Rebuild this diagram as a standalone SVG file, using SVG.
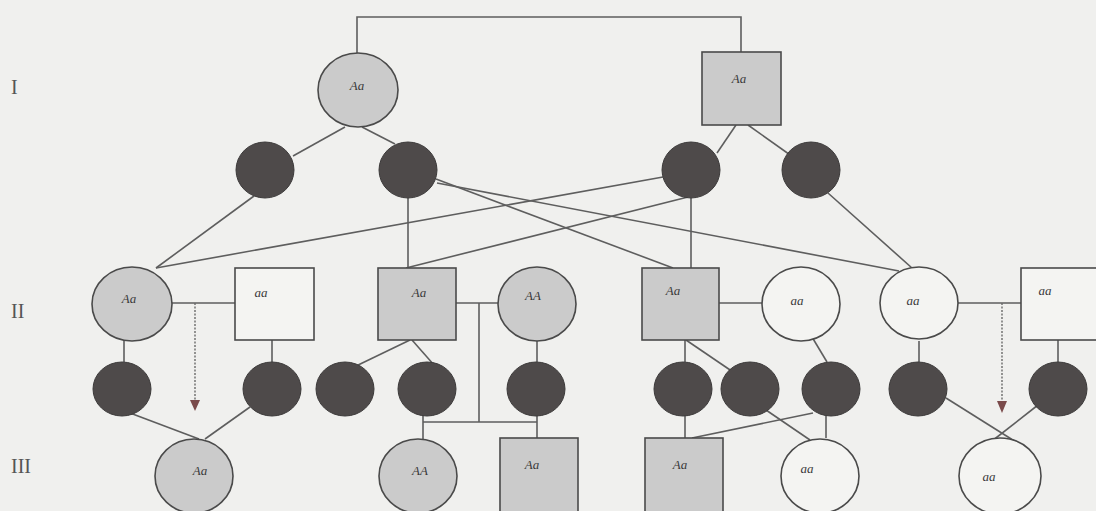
<svg xmlns="http://www.w3.org/2000/svg" width="1096" height="511" viewBox="0 0 1096 511">
<defs>
<style>
.bg{fill:#f0f0ee}
.ln{stroke:#5e5e5e;stroke-width:1.6;fill:none}
.dot{stroke:#6a6a6a;stroke-width:1.4;fill:none;stroke-dasharray:2 1.5}
.aff{fill:#cbcbcb;stroke:#4a4a4a;stroke-width:1.6}
.un{fill:#f4f4f2;stroke:#4a4a4a;stroke-width:1.6}
.gam{fill:#4e4a4a;stroke:#3c3a3a;stroke-width:1}
.gt{font-family:"Liberation Serif",serif;font-style:italic;font-size:13px;fill:#3a3a3a;text-anchor:middle}
.gen{font-family:"Liberation Serif",serif;font-size:20px;fill:#555}
.arr{fill:#7a4a4a}
</style>
</defs>
<rect class="bg" x="0" y="0" width="1096" height="511"/>
<g id="generation-labels">
<text class="gen" x="11" y="94">I</text>
<text class="gen" x="11" y="318">II</text>
<text class="gen" x="11" y="473">III</text>
</g>
<g id="connectors">
<polyline class="ln" points="357,53 357,17 741,17 741,52"/>
<line class="ln" x1="345" y1="127" x2="293" y2="156"/>
<line class="ln" x1="362" y1="127" x2="395" y2="144"/>
<line class="ln" x1="736" y1="125" x2="717" y2="153"/>
<line class="ln" x1="748" y1="125" x2="793" y2="157"/>
<line class="ln" x1="254" y1="196" x2="156" y2="268"/>
<line class="ln" x1="663" y1="177" x2="156" y2="268"/>
<line class="ln" x1="408" y1="198" x2="408" y2="268"/>
<line class="ln" x1="688" y1="197" x2="406" y2="268"/>
<line class="ln" x1="436" y1="179" x2="673" y2="268"/>
<line class="ln" x1="437" y1="183" x2="899" y2="271"/>
<line class="ln" x1="691" y1="198" x2="691" y2="268"/>
<line class="ln" x1="828" y1="193" x2="912" y2="268"/>
<line class="ln" x1="170" y1="303" x2="235" y2="303"/>
<line class="ln" x1="456" y1="303" x2="498" y2="303"/>
<line class="ln" x1="719" y1="303" x2="762" y2="303"/>
<line class="ln" x1="958" y1="303" x2="1021" y2="303"/>
<line class="dot" x1="195" y1="303" x2="195" y2="401"/>
<polygon class="arr" points="190,400 200,400 195,411"/>
<line class="dot" x1="1002" y1="303" x2="1002" y2="402"/>
<polygon class="arr" points="997,401 1007,401 1002,413"/>
<line class="ln" x1="124" y1="340" x2="124" y2="362"/>
<line class="ln" x1="272" y1="340" x2="272" y2="362"/>
<line class="ln" x1="410" y1="340" x2="354" y2="367"/>
<line class="ln" x1="412" y1="340" x2="434" y2="365"/>
<line class="ln" x1="537" y1="340" x2="537" y2="362"/>
<line class="ln" x1="685" y1="340" x2="685" y2="362"/>
<line class="ln" x1="686" y1="340" x2="736" y2="374"/>
<line class="ln" x1="812" y1="337" x2="827" y2="362"/>
<line class="ln" x1="919" y1="341" x2="919" y2="362"/>
<line class="ln" x1="1058" y1="340" x2="1058" y2="362"/>
<polyline class="ln" points="479,303 479,422"/>
<line class="ln" x1="423" y1="422" x2="537" y2="422"/>
<line class="ln" x1="423" y1="414" x2="423" y2="439"/>
<line class="ln" x1="537" y1="414" x2="537" y2="438"/>
<line class="ln" x1="130" y1="413" x2="199" y2="439"/>
<line class="ln" x1="250" y1="407" x2="205" y2="439"/>
<line class="ln" x1="685" y1="415" x2="685" y2="438"/>
<line class="ln" x1="813" y1="413" x2="692" y2="438"/>
<line class="ln" x1="766" y1="410" x2="810" y2="440"/>
<line class="ln" x1="826" y1="415" x2="826" y2="438"/>
<line class="ln" x1="946" y1="398" x2="1016" y2="442"/>
<line class="ln" x1="1038" y1="405" x2="992" y2="441"/>
</g>
<g id="I-1"><ellipse class="aff" cx="358" cy="90" rx="40" ry="37"/><text class="gt" x="357" y="90">Aa</text></g>
<g id="I-2"><rect class="aff" x="702" y="52" width="79" height="73"/><text class="gt" x="739" y="83">Aa</text></g>
<g id="gam-I-1"><ellipse class="gam" cx="265" cy="170" rx="29" ry="28"/></g>
<g id="gam-I-2"><ellipse class="gam" cx="408" cy="170" rx="29" ry="28"/></g>
<g id="gam-I-3"><ellipse class="gam" cx="691" cy="170" rx="29" ry="28"/></g>
<g id="gam-I-4"><ellipse class="gam" cx="811" cy="170" rx="29" ry="28"/></g>
<g id="II-1"><ellipse class="aff" cx="132" cy="304" rx="40" ry="37"/><text class="gt" x="129" y="303">Aa</text></g>
<g id="II-2"><rect class="un" x="235" y="268" width="79" height="72"/><text class="gt" x="261" y="297">aa</text></g>
<g id="II-3"><rect class="aff" x="378" y="268" width="78" height="72"/><text class="gt" x="419" y="297">Aa</text></g>
<g id="II-4"><ellipse class="aff" cx="537" cy="304" rx="39" ry="37"/><text class="gt" x="533" y="300">AA</text></g>
<g id="II-5"><rect class="aff" x="642" y="268" width="77" height="72"/><text class="gt" x="673" y="295">Aa</text></g>
<g id="II-6"><ellipse class="un" cx="801" cy="304" rx="39" ry="37"/><text class="gt" x="797" y="305">aa</text></g>
<g id="II-7"><ellipse class="un" cx="919" cy="303" rx="39" ry="36"/><text class="gt" x="913" y="305">aa</text></g>
<g id="II-8"><rect class="un" x="1021" y="268" width="80" height="72"/><text class="gt" x="1045" y="295">aa</text></g>
<g id="gam-II-1"><ellipse class="gam" cx="122" cy="389" rx="29" ry="27"/></g>
<g id="gam-II-2"><ellipse class="gam" cx="272" cy="389" rx="29" ry="27"/></g>
<g id="gam-II-3"><ellipse class="gam" cx="345" cy="389" rx="29" ry="27"/></g>
<g id="gam-II-4"><ellipse class="gam" cx="427" cy="389" rx="29" ry="27"/></g>
<g id="gam-II-5"><ellipse class="gam" cx="536" cy="389" rx="29" ry="27"/></g>
<g id="gam-II-6"><ellipse class="gam" cx="683" cy="389" rx="29" ry="27"/></g>
<g id="gam-II-7"><ellipse class="gam" cx="750" cy="389" rx="29" ry="27"/></g>
<g id="gam-II-8"><ellipse class="gam" cx="831" cy="389" rx="29" ry="27"/></g>
<g id="gam-II-9"><ellipse class="gam" cx="918" cy="389" rx="29" ry="27"/></g>
<g id="gam-II-10"><ellipse class="gam" cx="1058" cy="389" rx="29" ry="27"/></g>
<g id="III-1"><ellipse class="aff" cx="194" cy="476" rx="39" ry="37"/><text class="gt" x="200" y="475">Aa</text></g>
<g id="III-2"><ellipse class="aff" cx="418" cy="476" rx="39" ry="37"/><text class="gt" x="420" y="475">AA</text></g>
<g id="III-3"><rect class="aff" x="500" y="438" width="78" height="76"/><text class="gt" x="532" y="469">Aa</text></g>
<g id="III-4"><rect class="aff" x="645" y="438" width="78" height="76"/><text class="gt" x="680" y="469">Aa</text></g>
<g id="III-5"><ellipse class="un" cx="820" cy="476" rx="39" ry="37"/><text class="gt" x="807" y="473">aa</text></g>
<g id="III-6"><ellipse class="un" cx="1000" cy="476" rx="41" ry="38"/><text class="gt" x="989" y="481">aa</text></g>
</svg>
